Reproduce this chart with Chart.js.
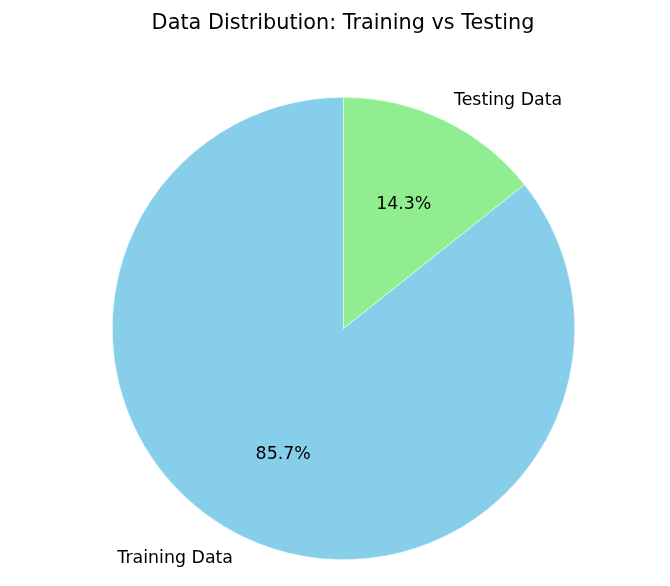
<!DOCTYPE html>
<html>
<head>
<meta charset="utf-8">
<script src="https://cdn.jsdelivr.net/npm/chart.js@4"></script>
<style>
html,body{margin:0;padding:0;background:#fff;}
#wrap{width:670px;height:586px;position:relative;}
</style>
</head>
<body>
<div id="wrap"><canvas id="c" width="670" height="586"></canvas></div>
<script>
const chartTitle = 'Data Distribution: Training vs Testing';
const categories = ['Training Data', 'Testing Data'];
const values = [85.7, 14.3];
const colors = ['#87CEEB', '#90EE90'];

const total = values.reduce((a, b) => a + b, 0);
// matplotlib startangle=90 counter-clockwise => first slice ends at top going CCW
const rotationDeg = 360 * values[values.length - 1] / total;

const labelPlugin = {
  id: 'mplLabels',
  afterDraw(chart) {
    const ctx = chart.ctx;
    ctx.save();
    ctx.fillStyle = '#000';
    ctx.font = '20.8px "DejaVu Sans"';
    ctx.textAlign = 'center';
    ctx.textBaseline = 'middle';
    ctx.fillText(chartTitle, 343, 24);
    const meta = chart.getDatasetMeta(0);
    meta.data.forEach((arc, i) => {
      const mid = (arc.startAngle + arc.endAngle) / 2;
      const r = arc.outerRadius;
      const cx = Math.cos(mid), cy = Math.sin(mid);
      ctx.font = '17.4px "DejaVu Sans"';
      ctx.textBaseline = 'middle';
      ctx.textAlign = 'center';
      const pct = (values[i] / total * 100).toFixed(1) + '%';
      ctx.fillText(pct, arc.x + cx * r * 0.6, arc.y + cy * r * 0.6 + 1);
      ctx.textAlign = cx >= 0 ? 'left' : 'right';
      ctx.fillText(categories[i], arc.x + cx * r * 1.1, arc.y + cy * r * 1.1 + 1);
    });
    ctx.restore();
  }
};

new Chart(document.getElementById('c'), {
  type: 'pie',
  data: {
    labels: categories,
    datasets: [{
      data: values,
      backgroundColor: colors,
      borderColor: '#ffffff',
      borderWidth: 0.5,
      hoverOffset: 0
    }]
  },
  options: {
    responsive: false,
    animation: false,
    rotation: rotationDeg,
    layout: { padding: { left: 112, right: 95, top: 97, bottom: 26 } },
    plugins: {
      legend: { display: false },
      title: { display: false },
      tooltip: { enabled: false }
    }
  },
  plugins: [labelPlugin]
});
</script>
</body>
</html>
